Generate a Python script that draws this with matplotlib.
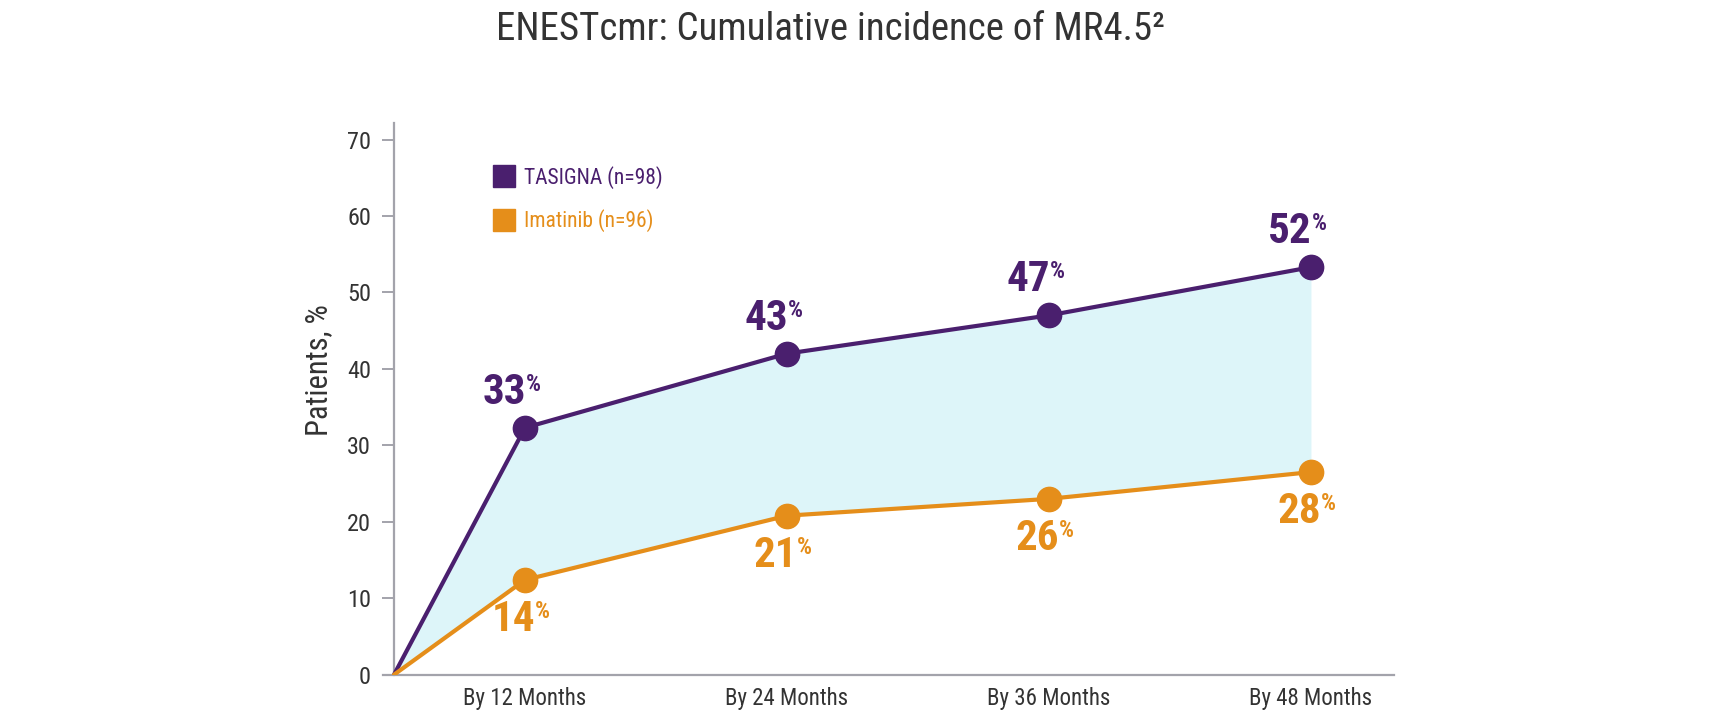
import matplotlib
matplotlib.use("Agg")
import matplotlib.pyplot as plt
from matplotlib.lines import Line2D

plt.rcParams['font.family'] = ['Roboto Condensed', 'Liberation Sans Narrow', 'Roboto', 'DejaVu Sans']

# ---- data ----
categories = ["By 12 Months", "By 24 Months", "By 36 Months", "By 48 Months"]
x_pos = [0, 0.5, 1.5, 2.5, 3.5]          # origin + 4 time points
tasigna = [0, 32.3, 42.0, 47.0, 53.3]
imatinib = [0, 12.4, 20.8, 23.0, 26.5]
tasigna_labels = [33, 43, 47, 52]
imatinib_labels = [14, 21, 26, 28]
series_names = ["TASIGNA (n=98)", "Imatinib (n=96)"]
y_ticks = [0, 10, 20, 30, 40, 50, 60, 70]

PURPLE = "#4a1f6e"
ORANGE = "#e58e1a"
FILL = "#ddf5f9"
GRAY = "#a3a3ab"
TEXT = "#333333"

W, H = 1724, 719
fig = plt.figure(figsize=(W / 100, H / 100), dpi=100)
ax = fig.add_axes([383 / W, 44.3 / H, (1394 - 383) / W, (674.7 - 122.7) / H])
ax.set_xlim(-0.042, 3.817)
ax.set_ylim(0, 72.2)

ax.fill_between(x_pos, imatinib, tasigna, color=FILL, zorder=1, linewidth=0)
ax.plot(x_pos, tasigna, color=PURPLE, lw=3, marker='o', ms=17.5,
        markevery=[1, 2, 3, 4], zorder=3, solid_capstyle='round')
ax.plot(x_pos, imatinib, color=ORANGE, lw=3, marker='o', ms=17.5,
        markevery=[1, 2, 3, 4], zorder=3, solid_capstyle='round')

# data labels
for x, y, v in zip(x_pos[1:], tasigna[1:], tasigna_labels):
    ax.annotate(f"{v}", xy=(x, y), xytext=(1, 24), textcoords='offset pixels',
                ha='right', va='baseline', fontsize=31, fontweight='bold',
                color=PURPLE, zorder=4)
    ax.annotate("%", xy=(x, y), xytext=(1, 55), textcoords='offset pixels',
                ha='left', va='top', fontsize=17, fontweight='bold',
                color=PURPLE, zorder=4)
for x, y, v in zip(x_pos[1:], imatinib[1:], imatinib_labels):
    ax.annotate(f"{v}", xy=(x, y), xytext=(10, -51), textcoords='offset pixels',
                ha='right', va='baseline', fontsize=31, fontweight='bold',
                color=ORANGE, zorder=4)
    ax.annotate("%", xy=(x, y), xytext=(10, -20), textcoords='offset pixels',
                ha='left', va='top', fontsize=17, fontweight='bold',
                color=ORANGE, zorder=4)

# axes styling
for s in ('top', 'right'):
    ax.spines[s].set_visible(False)
ax.spines['left'].set_position(('data', 0))
ax.spines['left'].set_color(GRAY)
ax.spines['bottom'].set_color(GRAY)
ax.spines['left'].set_linewidth(1.6)
ax.spines['bottom'].set_linewidth(1.6)

ax.set_yticks(y_ticks)
ax.tick_params(axis='y', length=8.6, width=1.4, color=GRAY, pad=8,
               labelsize=17.5, labelcolor=TEXT)
ax.set_xticks(x_pos[1:])
ax.set_xticklabels(categories)
ax.tick_params(axis='x', length=0, pad=9, labelsize=16.5, labelcolor=TEXT)

ax.set_ylabel("Patients, %", fontsize=22, color=TEXT, va='center')
ax.yaxis.set_label_coords(-0.064, 0.552)

# legend
handles = [Line2D([], [], ls='none', marker='s', ms=16, color=PURPLE),
           Line2D([], [], ls='none', marker='s', ms=16, color=ORANGE)]
leg = ax.legend(handles, series_names, loc='upper left',
                bbox_to_anchor=(492 / W, 1 - 166 / H), bbox_transform=fig.transFigure,
                frameon=False, fontsize=15.5, handlelength=1.1, handletextpad=0.4,
                labelspacing=0.95, borderpad=0, borderaxespad=0)
for t, c in zip(leg.get_texts(), [PURPLE, ORANGE]):
    t.set_color(c)

fig.text(831 / W, 1 - 29 / H, "ENESTcmr: Cumulative incidence of MR4.5²",
         ha='center', va='center', fontsize=28, color=TEXT)

fig.savefig("out.png", dpi=100)
